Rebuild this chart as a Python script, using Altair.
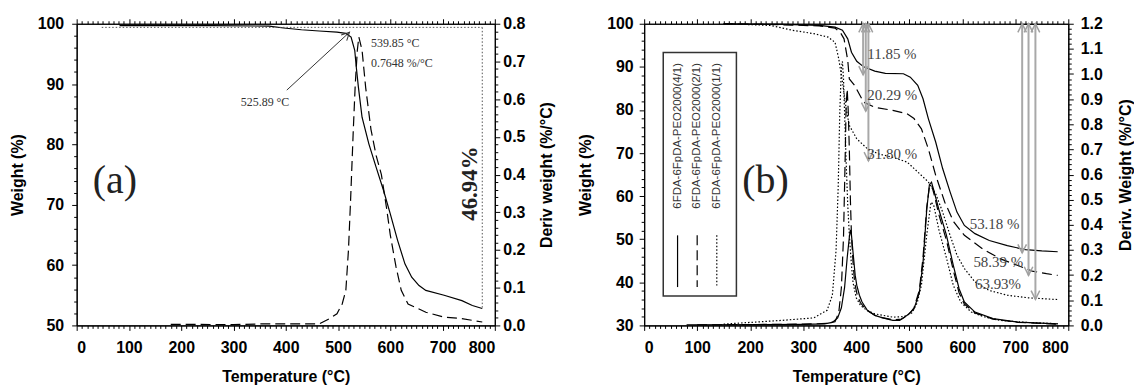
import altair as alt
import pandas as pd

# ---------------- Panel (a) data ----------------
a_weight_T = [82, 259, 368, 396, 430, 464, 498, 515, 525, 532, 535, 539, 546, 559, 573, 587, 600, 614, 628, 641, 655, 668, 703, 737, 757, 776]
a_weight_W = [99.7, 99.7, 99.6, 99.3, 99.0, 98.8, 98.6, 98.4, 97.8, 95.6, 92.8, 89.5, 84.5, 80.1, 76.2, 72.4, 68.5, 64.1, 60.2, 58.0, 56.6, 55.8, 55.0, 54.1, 53.3, 52.8]

a_deriv_T = [180, 205, 300, 350, 400, 464, 484, 498, 508, 515, 520, 524, 529, 533, 537, 539.85, 546, 553, 563, 573, 583, 593, 600, 611, 621, 634, 668, 703, 737, 776]
a_deriv_D = [0.003, 0.003, 0.002, 0.004, 0.004, 0.004, 0.018, 0.031, 0.057, 0.093, 0.2, 0.33, 0.51, 0.64, 0.73, 0.7648, 0.73, 0.63, 0.52, 0.45, 0.40, 0.31, 0.24, 0.155, 0.093, 0.057, 0.035, 0.022, 0.018, 0.009]

a_note_text = ["539.85 °C", "0.7648 %/°C", "525.89 °C"]
a_note_T = [563, 563, 314]
a_note_W = [96.8, 93.5, 87.1]

a_arrow_T = [402, 522]
a_arrow_W = [89.0, 98.6]

a_bracket_T = [48, 776]
a_bracket_W = [99.4, 52.8]

a_loss_text = ["46.94%"]
a_loss_T = [752]
a_loss_W = [73.5]

a_tag = ["(a)"]
a_tag_T = [31]
a_tag_W = [74]

# ---------------- Panel (b) data ----------------
series_names = ["6FDA-6FpDA-PEO2000(4/1)", "6FDA-6FpDA-PEO2000(2/1)", "6FDA-6FpDA-PEO2000(1/1)"]

b41_w_T = [150, 250, 330, 360, 374, 384, 391, 401, 414, 435, 455, 489, 502, 516, 526, 536, 550, 563, 577, 590, 604, 624, 651, 685, 719, 750, 780]
b41_w_W = [100, 99.9, 99.6, 99.2, 98.5, 96.5, 93.4, 91.3, 90.0, 89.0, 88.5, 88.4, 87.6, 85.7, 82.6, 78.0, 72.5, 66.4, 61.0, 56.3, 53.2, 51.3, 49.7, 48.5, 47.6, 47.3, 47.1]

b21_w_T = [150, 250, 330, 360, 370, 377, 384, 387, 397, 414, 435, 469, 496, 509, 523, 536, 550, 567, 584, 604, 638, 671, 705, 732, 759, 780]
b21_w_W = [100, 99.8, 99.5, 99.0, 98.0, 96.5, 91.5, 87.2, 85.7, 81.8, 80.6, 79.9, 79.1, 78.0, 75.6, 71.0, 64.8, 58.6, 54.0, 50.9, 47.8, 45.5, 43.9, 42.6, 42.0, 41.6]

b11_w_T = [150, 200, 239, 279, 320, 347, 360, 367, 374, 381, 387, 401, 421, 442, 469, 496, 516, 536, 550, 563, 577, 590, 604, 624, 651, 685, 725, 780]
b11_w_W = [100, 99.8, 99.6, 98.5, 97.7, 96.9, 95.7, 91.9, 86.5, 80.3, 76.4, 73.3, 71.0, 69.8, 69.0, 67.9, 65.6, 63.3, 60.5, 56.3, 50.9, 46.3, 43.2, 40.1, 38.1, 37.0, 36.4, 36.0]

b41_d_T = [80, 300, 340, 355, 365, 372, 378, 383, 387, 389, 391, 394, 398, 401, 406, 411, 421, 435, 450, 469, 482, 496, 509, 519, 526, 533, 538, 542, 546, 556, 570, 583, 594, 604, 624, 658, 705, 780]
b41_d_D = [0.002, 0.004, 0.006, 0.012, 0.03, 0.07, 0.15, 0.27, 0.35, 0.38, 0.36, 0.29, 0.2, 0.16, 0.12, 0.093, 0.06, 0.04, 0.03, 0.02, 0.02, 0.04, 0.066, 0.13, 0.25, 0.46, 0.56, 0.57, 0.54, 0.46, 0.36, 0.24, 0.146, 0.093, 0.053, 0.027, 0.013, 0.006]

b21_d_T = [100, 300, 345, 360, 367, 372, 376, 379, 381, 383, 385, 387, 389, 391, 394, 397, 402, 408, 420, 440, 470, 485, 498, 509, 519, 526, 533, 538, 542, 547, 556, 570, 583, 594, 604, 624, 658, 705, 780]
b21_d_D = [0.002, 0.005, 0.008, 0.015, 0.05, 0.15, 0.35, 0.65, 0.88, 0.94, 0.85, 0.7, 0.5, 0.36, 0.25, 0.17, 0.12, 0.09, 0.06, 0.035, 0.022, 0.025, 0.04, 0.07, 0.14, 0.27, 0.47, 0.55, 0.56, 0.52, 0.44, 0.34, 0.22, 0.13, 0.085, 0.05, 0.025, 0.012, 0.005]

b11_d_T = [150, 200, 260, 320, 345, 355, 362, 366, 369, 372, 374, 376, 378, 381, 384, 387, 391, 394, 400, 408, 420, 435, 469, 490, 505, 515, 523, 533, 541, 546, 556, 570, 583, 597, 617, 640, 671, 720, 780]
b11_d_D = [0.005, 0.012, 0.02, 0.03, 0.06, 0.12, 0.3, 0.55, 0.85, 1.02, 1.05, 0.98, 0.85, 0.65, 0.48, 0.36, 0.24, 0.17, 0.11, 0.08, 0.06, 0.046, 0.033, 0.035, 0.05, 0.09, 0.16, 0.36, 0.49, 0.48, 0.38, 0.27, 0.16, 0.093, 0.053, 0.035, 0.02, 0.012, 0.007]

b_note_text = ["11.85  %", "20.29  %", "31.80  %", "53.18  %", "58.39  %", "63.93%"]
b_note_T = [421, 421, 421, 614, 621, 624]
b_note_W = [93.0, 83.5, 69.8, 53.6, 44.7, 39.7]

b_arrow_T = [413, 418, 423, 713, 725, 738]
b_arrow_top = [100, 100, 100, 100, 100, 100]
b_arrow_bot = [88.15, 79.71, 68.20, 46.82, 41.61, 36.07]

b_tag = ["(b)"]
b_tag_T = [185]
b_tag_W = [63.6]

leg_box_T = [36, 174]
leg_box_W = [93.3, 36.8]
leg_item_T = [63, 100, 137]
leg_text_W = [57.1, 57.1, 57.1]
leg_line_W = [50.9, 38.9]

# ---------------- styling helpers ----------------
SANS = "Liberation Sans"
SERIF = "Liberation Serif"
PW_A, PW_B, PH = 420, 426, 303
DASHES = [None, [10, 5], [1.5, 2]]
UP = "M-0.5,1 L0,0 L0.5,1"
DOWN = "M-0.5,-1 L0,0 L0.5,-1"

x_ticks = list(range(0, 801, 10))


def x_bottom():
    return alt.Axis(orient="bottom", values=x_ticks, title="Temperature (°C)",
                    labelExpr="datum.value % 100 === 0 ? datum.label : ''",
                    tickSize={"condition": {"test": "datum.value % 100 === 0", "value": 5}, "value": 3},
                    labelOverlap=False, labelPadding=9, titlePadding=13)


def x_top():
    return alt.Axis(orient="top", values=x_ticks, labels=False, title=None,
                    tickSize={"condition": {"test": "datum.value % 100 === 0", "value": 5}, "value": 3})


def y_left(lo, hi, lp, tp):
    return alt.Axis(orient="left", values=list(range(lo, hi + 1, 2)), title="Weight (%)",
                    labelExpr="datum.value % 10 === 0 ? datum.label : ''",
                    tickSize={"condition": {"test": "datum.value % 10 === 0", "value": 5}, "value": 3},
                    labelOverlap=False, labelPadding=lp, titlePadding=tp)


def y_right(hi, title, lp, tp):
    n = int(round(hi / 0.02))
    vals = [round(k * 0.02, 2) for k in range(n + 1)]
    test = "abs(datum.value*10 - round(datum.value*10)) < 0.001"
    return alt.Axis(orient="right", values=vals, title=title, titleAngle=270, titleBaseline="top",
                    labelExpr=test + " ? format(datum.value, '.1f') : ''",
                    tickSize={"condition": {"test": test, "value": 5}, "value": 3},
                    labelOverlap=False, labelPadding=lp, titlePadding=tp)


def X(axis=None):
    return alt.X("T:Q", scale=alt.Scale(domain=[0, 800], nice=False), axis=axis)


def Y(field, dom, axis=None):
    return alt.Y(field + ":Q", scale=alt.Scale(domain=dom, nice=False, zero=False), axis=axis)


def curve(T, V, field, dom, dash, xaxis=None, yaxis=None):
    df = pd.DataFrame({"T": T, field: V})
    kw = dict(color="black", strokeWidth=1.2)
    if dash is not None:
        kw["strokeDash"] = dash
    return alt.Chart(df).mark_line(**kw).encode(x=X(xaxis), y=Y(field, dom, yaxis))


def txt(T, W, labels, dom, **kw):
    df = pd.DataFrame({"T": T, "W": W, "t": labels})
    return alt.Chart(df).mark_text(**kw).encode(x=X(), y=Y("W", dom), text="t:N")


# ---------------- Panel (a) ----------------
DA_W = [50, 100]
DA_D = [0, 0.8]

a_weight = curve(a_weight_T, a_weight_W, "W", DA_W, None, xaxis=x_bottom(), yaxis=y_left(50, 100, 8, 12))
a_deriv = curve(a_deriv_T, a_deriv_D, "D", DA_D, [10, 5], xaxis=x_top(),
                yaxis=y_right(0.8, "Deriv weight (%/°C)", 3, 14))

a_br = pd.DataFrame({"T": [a_bracket_T[0], a_bracket_T[1]], "T2": [a_bracket_T[1], a_bracket_T[1]],
                     "W": [a_bracket_W[0], a_bracket_W[0]], "W2": [a_bracket_W[0], a_bracket_W[1]]})
a_bracket = alt.Chart(a_br).mark_rule(color="#555", strokeDash=[1.5, 2], strokeWidth=1).encode(
    x=X(), x2="T2:Q", y=Y("W", DA_W), y2="W2:Q")

a_notes = txt(a_note_T, a_note_W, a_note_text, DA_W, font=SERIF, fontSize=12, align="left",
              baseline="middle", color="#333")

a_arr = pd.DataFrame({"T": [a_arrow_T[0]], "T2": [a_arrow_T[1]], "W": [a_arrow_W[0]], "W2": [a_arrow_W[1]]})
a_arrow_line = alt.Chart(a_arr).mark_rule(color="#333", strokeWidth=1).encode(
    x=X(), x2="T2:Q", y=Y("W", DA_W), y2="W2:Q")
a_arrow_head = alt.Chart(pd.DataFrame({"T": [a_arrow_T[1]], "W": [a_arrow_W[1]]})).mark_point(
    shape=UP, angle=45, size=250, filled=False, color="#333", strokeWidth=1, opacity=1).encode(
    x=X(), y=Y("W", DA_W))

a_loss = txt(a_loss_T, a_loss_W, a_loss_text, DA_W, font=SERIF, fontSize=23, fontWeight="bold",
             angle=270, align="center", baseline="middle", color="#222")
a_tagm = txt(a_tag_T, a_tag_W, a_tag, DA_W, font=SERIF, fontSize=40, align="left",
             baseline="middle", color="#222")

panel_a = alt.layer(a_weight, a_deriv, a_bracket, a_notes, a_arrow_line, a_arrow_head, a_loss, a_tagm
                    ).resolve_scale(x="independent", y="independent").properties(width=PW_A, height=PH)

# ---------------- Panel (b) ----------------
DB_W = [30, 100]
DB_D = [0, 1.2]

b_w1 = curve(b41_w_T, b41_w_W, "W", DB_W, DASHES[0], xaxis=x_bottom(), yaxis=y_left(30, 100, 6, 13))
b_d1 = curve(b41_d_T, b41_d_D, "D", DB_D, DASHES[0], xaxis=x_top(),
             yaxis=y_right(1.2, "Deriv. Weight (%/°C)", 7, 15))
b_w2 = curve(b21_w_T, b21_w_W, "W", DB_W, DASHES[1])
b_w3 = curve(b11_w_T, b11_w_W, "W", DB_W, DASHES[2])
b_d2 = curve(b21_d_T, b21_d_D, "D", DB_D, DASHES[1])
b_d3 = curve(b11_d_T, b11_d_D, "D", DB_D, DASHES[2])

b_arr = pd.DataFrame({"T": b_arrow_T, "W": b_arrow_top, "W2": b_arrow_bot})
b_arrow_lines = alt.Chart(b_arr).mark_rule(color="#a8a8a8", strokeWidth=2).encode(
    x=X(), y=Y("W", DB_W), y2="W2:Q")
b_arrow_up = alt.Chart(b_arr).mark_point(shape=UP, size=300, filled=False, color="#a0a0a0",
                                         strokeWidth=1.5, opacity=1).encode(x=X(), y=Y("W", DB_W))
b_arrow_dn = alt.Chart(b_arr).mark_point(shape=DOWN, size=300, filled=False, color="#a0a0a0",
                                         strokeWidth=1.5, opacity=1).encode(x=X(), y=Y("W2", DB_W))

b_notes = txt(b_note_T, b_note_W, b_note_text, DB_W, font=SERIF, fontSize=15, align="left",
              baseline="middle", color="#444")
b_tagm = txt(b_tag_T, b_tag_W, b_tag, DB_W, font=SERIF, fontSize=40, align="left",
             baseline="middle", color="#222")

leg_box = alt.Chart(pd.DataFrame({"T": [leg_box_T[0]], "T2": [leg_box_T[1]],
                                  "W": [leg_box_W[0]], "W2": [leg_box_W[1]]})).mark_rect(
    fillOpacity=0, stroke="#333", strokeWidth=1.5).encode(x=X(), x2="T2:Q", y=Y("W", DB_W), y2="W2:Q")
leg_text = txt(leg_item_T, leg_text_W, series_names, DB_W, font=SANS, fontSize=11.5, angle=270,
               align="left", baseline="middle", color="#333")
leg_lines = []
for i in range(3):
    kw = dict(color="black", strokeWidth=1.2)
    if DASHES[i] is not None:
        kw["strokeDash"] = DASHES[i]
    leg_lines.append(alt.Chart(pd.DataFrame({"T": [leg_item_T[i]], "W": [leg_line_W[0]],
                                             "W2": [leg_line_W[1]]})).mark_rule(**kw).encode(
        x=X(), y=Y("W", DB_W), y2="W2:Q"))

panel_b = alt.layer(b_w1, b_d1, b_w2, b_w3, b_d2, b_d3, b_arrow_lines, b_arrow_up, b_arrow_dn,
                    b_notes, b_tagm, leg_box, leg_text, *leg_lines
                    ).resolve_scale(x="independent", y="independent").properties(width=PW_B, height=PH)

chart = alt.hconcat(panel_a, panel_b, spacing=21).properties(
    padding={"left": 8, "top": 14, "right": 0, "bottom": 0}
).configure_view(stroke="black", strokeWidth=1).configure_axis(
    grid=False, domainColor="black", tickColor="black", labelColor="black", titleColor="black",
    labelFont=SANS, titleFont=SANS, labelFontSize=16, titleFontSize=16,
    labelFontWeight="bold", titleFontWeight="bold", domainWidth=1.2, tickWidth=1
)

chart.save("out.html", embed_options={"renderer": "svg", "actions": False})
